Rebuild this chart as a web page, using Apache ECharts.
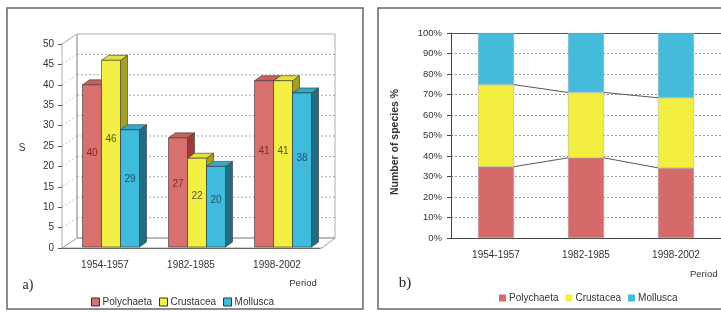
<!DOCTYPE html>
<html>
<head>
<meta charset="utf-8">
<script src="https://cdn.jsdelivr.net/npm/echarts@6/dist/echarts.min.js"></script>
<style>
html, body { margin: 0; padding: 0; background: #fff; }
#main { width: 721px; height: 312px; }
</style>
</head>
<body>
<div id="main"></div>
<script>
// values
var periods = ['1954-1957', '1982-1985', '1998-2002'];
var polychaeta = [40, 27, 41];
var crustacea = [46, 22, 41];
var mollusca = [29, 20, 38];
// panel b, percent of species
var polyPct = [34.8, 39.1, 34.2];
var crustPct = [40.0, 31.9, 34.2];
var mollPct = [25.2, 29.0, 31.6];

var FONT = 'Liberation Sans, Arial, sans-serif';
var DX = 15, DY = -10; // depth of the 3d box
var chart = echarts.init(document.getElementById('main'));

// back wall, left wall, floor of panel a
function walls(params, api) {
	var cs = params.coordSys;
	var x0 = cs.x, x1 = cs.x + cs.width;
	var y0 = api.coord([0, 0])[1];
	var yT = api.coord([0, 50])[1];
	var kids = [
		{ type: 'polygon', shape: { points: [[x0, y0], [x1 + 2, y0], [x1 + DX, y0 + DY], [x0 + DX, y0 + DY]] },
			style: { fill: '#fff', stroke: '#888', lineWidth: 0.8 } },
		{ type: 'polygon', shape: { points: [[x0, yT], [x0 + DX, yT + DY], [x0 + DX, y0 + DY], [x0, y0]] },
			style: { fill: '#fff', stroke: '#999', lineWidth: 0.8 } },
		{ type: 'rect', shape: { x: x0 + DX, y: yT + DY, width: x1 - x0, height: y0 - yT },
			style: { fill: 'none', stroke: '#999', lineWidth: 0.8 } }
	];
	for (var v = 5; v <= 50; v += 5) {
		var y = api.coord([0, v])[1];
		kids.push({ type: 'line', shape: { x1: x0, y1: y, x2: x0 + DX, y2: y + DY },
			style: { stroke: '#bbb', lineWidth: 0.8, lineDash: [2, 2] } });
		if (v < 50) {
			kids.push({ type: 'line', shape: { x1: x0 + DX, y1: y + DY, x2: x1 + DX, y2: y + DY },
				style: { stroke: '#999', lineWidth: 0.8, lineDash: [2, 2] } });
		}
	}
	return { type: 'group', children: kids };
}

function bar3d(k, face, top, side, txt) {
	return function (params, api) {
		var i = api.value(0), v = api.value(1);
		var p = api.coord([i, v]);
		var base = api.coord([i, 0]);
		var w = 19;
		var x = p[0] + 6 + (k - 1.5) * w;
		var yT = p[1], yB = base[1] - 1;
		var lab = api.coord([i, v * 0.58]);
		var ln = { stroke: '#333', lineWidth: 0.6 };
		return {
			type: 'group',
			children: [
				{ type: 'polygon', shape: { points: [[x + w, yT], [x + w + 7, yT - 5], [x + w + 7, yB - 5], [x + w, yB]] },
					style: Object.assign({ fill: side }, ln) },
				{ type: 'polygon', shape: { points: [[x, yT], [x + 7, yT - 5], [x + w + 7, yT - 5], [x + w, yT]] },
					style: Object.assign({ fill: top }, ln) },
				{ type: 'rect', shape: { x: x, y: yT, width: w, height: yB - yT },
					style: Object.assign({ fill: face }, ln) },
				{ type: 'text', x: x + w / 2, y: lab[1],
					style: { text: String(v), fill: txt, font: '10px ' + FONT, align: 'center', verticalAlign: 'middle' } }
			]
		};
	};
}

// series lines between stacked bars in panel b
var cum1 = polyPct;
var cum2 = polyPct.map(function (v, i) { return v + crustPct[i]; });
var linkData = [];
for (var i = 0; i < periods.length - 1; i++) {
	linkData.push([i, cum1[i], cum1[i + 1]]);
	linkData.push([i, cum2[i], cum2[i + 1]]);
}

var colA = ['#D8706E', '#F4EF45', '#3FBCDC'];
var colB = ['#D46A6A', '#F2EE42', '#45BBDB'];
var names = ['Polychaeta', 'Crustacea', 'Mollusca'];

var option = {
	animation: false,
	textStyle: { fontFamily: FONT },
	graphic: [
		{ type: 'rect', shape: { x: 7, y: 8, width: 356, height: 301 }, style: { fill: 'none', stroke: '#666', lineWidth: 1.5 } },
		{ type: 'rect', shape: { x: 378, y: 8, width: 360, height: 301 }, style: { fill: 'none', stroke: '#666', lineWidth: 1.5 } },
		{ type: 'text', x: 22, y: 148, style: { text: 'S', font: '10px ' + FONT, fill: '#333', align: 'center', verticalAlign: 'middle' } },
		{ type: 'text', x: 303, y: 283, style: { text: 'Period', font: '9.5px ' + FONT, fill: '#333', align: 'center', verticalAlign: 'middle' } },
		{ type: 'text', x: 28, y: 285, style: { text: 'a)', font: '14px Liberation Serif, serif', fill: '#222', align: 'center', verticalAlign: 'middle' } },
		{ type: 'text', x: 405, y: 283, style: { text: 'b)', font: '15px Liberation Serif, serif', fill: '#222', align: 'center', verticalAlign: 'middle' } },
		{ type: 'text', x: 690, y: 274, style: { text: 'Period', font: '9.5px ' + FONT, fill: '#333', align: 'left', verticalAlign: 'middle' } },
		{ type: 'text', x: 395, y: 142, rotation: Math.PI / 2,
			style: { text: 'Number of species %', font: 'bold 10.5px ' + FONT, fill: '#333', align: 'center', verticalAlign: 'middle' } }
	],
	legend: [
		{ left: 86, top: 292, itemWidth: 8, itemHeight: 8, itemGap: 7, icon: 'rect',
			textStyle: { fontSize: 10, color: '#333', padding: [0, 0, 0, -2] },
			data: names.map(function (n, k) {
				return { name: n, itemStyle: { color: colA[k], borderColor: '#333', borderWidth: 1 } };
			}) },
		{ left: 494, top: 288, itemWidth: 7, itemHeight: 7, itemGap: 7, icon: 'rect',
			textStyle: { fontSize: 10, color: '#333', padding: [0, 0, 0, -2] },
			data: names.map(function (n, k) {
				return { name: n, itemStyle: { color: colB[k], borderWidth: 0 } };
			}) }
	],
	grid: [
		{ left: 62, top: 44, width: 258, height: 204 },
		{ left: 451, top: 33, width: 276, height: 205 }
	],
	xAxis: [
		{ type: 'category', gridIndex: 0, data: periods,
			axisLine: { lineStyle: { color: '#555' } },
			axisTick: { length: 4, lineStyle: { color: '#555' } },
			axisLabel: { margin: 12, fontSize: 10, color: '#333' } },
		{ type: 'category', gridIndex: 1, data: periods,
			axisLine: { lineStyle: { color: '#444' } },
			axisTick: { length: 4, lineStyle: { color: '#444' } },
			axisLabel: { margin: 12, fontSize: 10, color: '#333' } },
		{ type: 'category', gridIndex: 1, data: periods, position: 'top',
			axisLine: { lineStyle: { color: '#555', width: 1.2 } },
			axisTick: { show: false }, axisLabel: { show: false } }
	],
	yAxis: [
		{ type: 'value', gridIndex: 0, min: 0, max: 50, interval: 5,
			axisLine: { show: true, lineStyle: { color: '#555' } },
			axisTick: { show: true, length: 4, lineStyle: { color: '#555' } },
			axisLabel: { margin: 8, fontSize: 10, color: '#333' },
			splitLine: { show: false } },
		{ type: 'value', gridIndex: 1, min: 0, max: 100, interval: 10,
			axisLine: { show: true, lineStyle: { color: '#444' } },
			axisTick: { show: true, length: 4, lineStyle: { color: '#444' } },
			axisLabel: { margin: 9, fontSize: 9.5, color: '#333', formatter: '{value}%' },
			splitLine: { show: true, lineStyle: { color: '#999', type: [2, 2] } } }
	],
	series: [
		{ type: 'custom', name: 'walls', xAxisIndex: 0, yAxisIndex: 0, z: 1, silent: true,
			renderItem: walls, data: [[0, 0]] },
		{ type: 'custom', name: names[0], xAxisIndex: 0, yAxisIndex: 0, z: 2, clip: false,
			itemStyle: { color: colA[0] },
			renderItem: bar3d(0, colA[0], '#C8605E', '#9E3A3A', '#7a2a2a'),
			data: polychaeta.map(function (v, i) { return [i, v]; }) },
		{ type: 'custom', name: names[1], xAxisIndex: 0, yAxisIndex: 0, z: 2, clip: false,
			itemStyle: { color: colA[1] },
			renderItem: bar3d(1, colA[1], '#E6E03A', '#A3A024', '#555533'),
			data: crustacea.map(function (v, i) { return [i, v]; }) },
		{ type: 'custom', name: names[2], xAxisIndex: 0, yAxisIndex: 0, z: 2, clip: false,
			itemStyle: { color: colA[2] },
			renderItem: bar3d(2, colA[2], '#36AACB', '#1F6E86', '#1d4f66'),
			data: mollusca.map(function (v, i) { return [i, v]; }) },

		{ type: 'bar', name: names[0], xAxisIndex: 1, yAxisIndex: 1, stack: 'p', barWidth: 36,
			itemStyle: { color: colB[0], borderColor: '#aaa', borderWidth: 0.5 }, data: polyPct },
		{ type: 'bar', name: names[1], xAxisIndex: 1, yAxisIndex: 1, stack: 'p', barWidth: 36,
			itemStyle: { color: colB[1], borderColor: '#aaa', borderWidth: 0.5 }, data: crustPct },
		{ type: 'bar', name: names[2], xAxisIndex: 1, yAxisIndex: 1, stack: 'p', barWidth: 36,
			itemStyle: { color: colB[2], borderColor: '#aaa', borderWidth: 0.5 }, data: mollPct },
		{ type: 'custom', name: 'links', xAxisIndex: 1, yAxisIndex: 1, z: 3, silent: true,
			renderItem: function (params, api) {
				var i = api.value(0);
				var a = api.coord([i, api.value(1)]);
				var b = api.coord([i + 1, api.value(2)]);
				return { type: 'line', shape: { x1: a[0] + 18, y1: a[1], x2: b[0] - 18, y2: b[1] },
					style: { stroke: '#555', lineWidth: 1 } };
			},
			data: linkData }
	]
};
chart.setOption(option);
</script>
</body>
</html>
